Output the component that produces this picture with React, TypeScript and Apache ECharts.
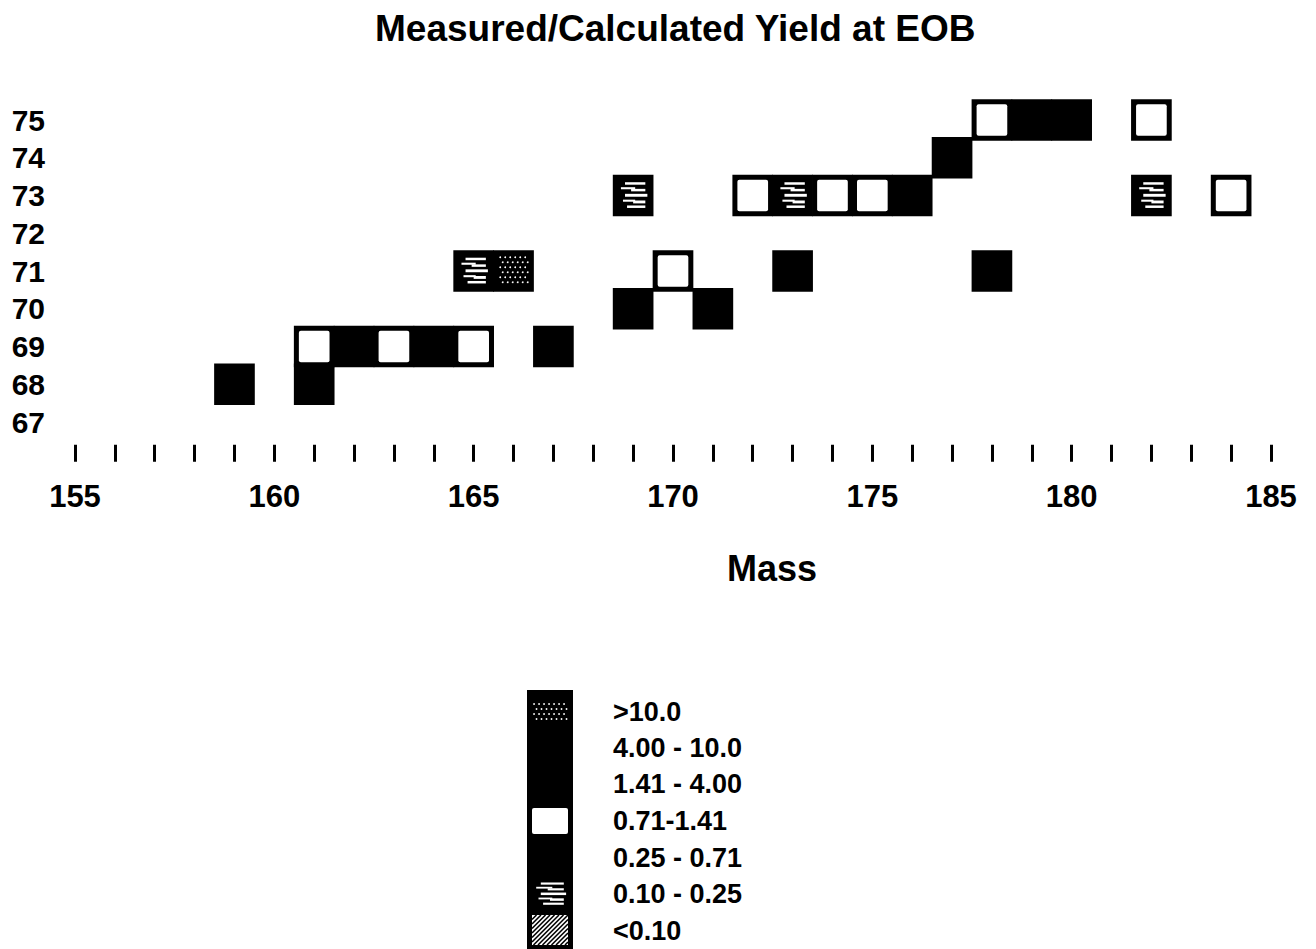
import React, { useEffect, useRef } from "react";
import * as echarts from "echarts";

// ---- data ----
const legendLabels = [">10.0", "4.00 - 10.0", "1.41 - 4.00", "0.71-1.41", "0.25 - 0.71", "0.10 - 0.25", "<0.10"];
// class index refers to legendLabels
const cellMass = [178, 179, 180, 182, 177, 169, 172, 173, 174, 175, 176, 182, 184, 165, 166, 170, 173, 178, 169, 171, 161, 162, 163, 164, 165, 167, 159, 161];
const cellZ = [75, 75, 75, 75, 74, 73, 73, 73, 73, 73, 73, 73, 73, 71, 71, 71, 71, 71, 70, 70, 69, 69, 69, 69, 69, 69, 68, 68];
const cellClass = [3, 2, 2, 3, 4, 5, 3, 5, 3, 3, 2, 5, 3, 5, 0, 3, 4, 4, 4, 4, 3, 2, 3, 2, 3, 2, 2, 4];
const massTicks = [155, 160, 165, 170, 175, 180, 185];
const zRange = [67, 75];

const FONT = "'Liberation Sans', Arial, Helvetica, sans-serif";

// streak layout (fractions of a cell) for the 0.10 - 0.25 class
const streaks = [
  [0.3, 0.18, 0.5, 0.06],
  [0.2, 0.3, 0.35, 0.05],
  [0.45, 0.34, 0.35, 0.06],
  [0.3, 0.46, 0.55, 0.07],
  [0.25, 0.6, 0.3, 0.05],
  [0.5, 0.62, 0.3, 0.07],
  [0.35, 0.74, 0.45, 0.06],
];

function pattern(x: number, y: number, w: number, h: number, cls: number): any[] {
  const out: any[] = [];
  const ins = 5;
  if (cls === 0) {
    let row = 0;
    for (let yy = y + ins + 2; yy < y + h - ins; yy += 5, row++) {
      for (let xx = x + ins + 2 + (row % 2) * 2.5; xx < x + w - ins; xx += 5) {
        out.push({ type: "circle", shape: { cx: xx, cy: yy, r: 0.9 }, style: { fill: "#fff" }, silent: true });
      }
    }
  } else if (cls === 3) {
    out.push({ type: "rect", shape: { x: x + ins, y: y + ins, width: w - 2 * ins, height: h - 2 * ins, r: 2 }, style: { fill: "#fff" }, silent: true });
  } else if (cls === 5) {
    streaks.forEach((s) => {
      out.push({ type: "rect", shape: { x: x + s[0] * w, y: y + s[1] * h, width: s[2] * w, height: Math.max(1.5, s[3] * h) }, style: { fill: "#fff" }, silent: true });
    });
  } else if (cls === 6) {
    const x0 = x + ins, x1 = x + w - ins, y0 = y + ins, y1 = y + h - ins;
    out.push({ type: "rect", shape: { x: x0, y: y0, width: x1 - x0, height: y1 - y0 }, style: { fill: "#fff" }, silent: true });
    for (let k = x0 + y0; k <= x1 + y1; k += 4.5) {
      const xa = Math.max(x0, k - y1);
      const xb = Math.min(x1, k - y0);
      if (xb > xa) {
        out.push({ type: "line", shape: { x1: xa, y1: k - xa, x2: xb, y2: k - xb }, style: { stroke: "#000", lineWidth: 1.6 }, silent: true });
      }
    }
  }
  return out;
}

export default function App() {
  const ref = useRef<HTMLDivElement>(null);
  useEffect(() => {
    if (!ref.current) return;
    const chart = echarts.init(ref.current, null, { renderer: "svg" });
    const data = cellMass.map((m, i) => [m, cellZ[i], cellClass[i]]);

    const legendX = 527, legendW = 46, legendTop = 690, legendBottom = 949;
    const rowCenters = [712, 748, 784, 821, 858, 894, 931];
    const legendEls: any[] = [
      { type: "rect", shape: { x: legendX, y: legendTop, width: legendW, height: legendBottom - legendTop }, style: { fill: "#000" } },
    ];
    legendLabels.forEach((lab, i) => {
      const c = rowCenters[i];
      let sx = legendX, sy = c - 18, sw = legendW, sh = 36;
      if (i === 0) { sy = c - 15; sh = 28; }
      if (i === 6) { sy = c - 21; sh = 40; }
      pattern(sx, sy, sw, sh, i).forEach((e) => legendEls.push(e));
      legendEls.push({
        type: "text",
        style: { text: lab, x: 613, y: c, verticalAlign: "middle", fontSize: 27, fontWeight: "bold", fontFamily: FONT, fill: "#000" },
      });
    });

    chart.setOption({
      animation: false,
      backgroundColor: "#fff",
      title: {
        text: "Measured/Calculated Yield at EOB",
        left: 370,
        top: 5,
        textStyle: { fontSize: 37, fontWeight: "bold", fontFamily: FONT, color: "#000" },
      },
      grid: { left: 75, right: 45, top: 82.25, bottom: 489.25 },
      xAxis: {
        type: "value",
        min: massTicks[0],
        max: massTicks[massTicks.length - 1],
        interval: 5,
        offset: -15,
        axisLine: { show: false },
        axisTick: { show: true, length: 17, lineStyle: { color: "#000", width: 3 } },
        minorTick: { show: true, splitNumber: 5, length: 17, lineStyle: { color: "#000", width: 3 } },
        splitLine: { show: false },
        minorSplitLine: { show: false },
        axisLabel: {
          margin: 36,
          fontSize: 31,
          fontWeight: "bold",
          fontFamily: FONT,
          color: "#000",
          formatter: (v: number) => (massTicks.indexOf(v) >= 0 ? String(v) : ""),
        },
      },
      yAxis: {
        type: "value",
        min: zRange[0] - 1,
        max: zRange[1] + 1,
        interval: 1,
        axisLine: { show: false },
        axisTick: { show: false },
        splitLine: { show: false },
        axisLabel: {
          margin: 30,
          fontSize: 30,
          fontWeight: "bold",
          fontFamily: FONT,
          color: "#000",
          formatter: (v: number) => (v >= zRange[0] && v <= zRange[1] ? String(v) : ""),
        },
      },
      series: [
        {
          type: "custom",
          clip: false,
          data,
          renderItem: (params: any, api: any) => {
            const m = api.value(0), z = api.value(1), c = api.value(2);
            const p0 = api.coord([m - 0.51, z + 0.55]);
            const p1 = api.coord([m + 0.51, z - 0.55]);
            const x = p0[0], y = p0[1], w = p1[0] - p0[0], h = p1[1] - p0[1];
            return {
              type: "group",
              children: [{ type: "rect", shape: { x, y, width: w, height: h }, style: { fill: "#000" } }, ...pattern(x, y, w, h, c)],
            };
          },
        },
      ],
      graphic: [
        {
          type: "text",
          style: { text: "Mass", x: 727, y: 568, verticalAlign: "middle", fontSize: 36, fontWeight: "bold", fontFamily: FONT, fill: "#000" },
        },
        ...legendEls,
      ],
    });
    return () => chart.dispose();
  }, []);
  return <div ref={ref} style={{ position: "fixed", left: 0, top: 0, width: 1316, height: 949 }} />;
}
